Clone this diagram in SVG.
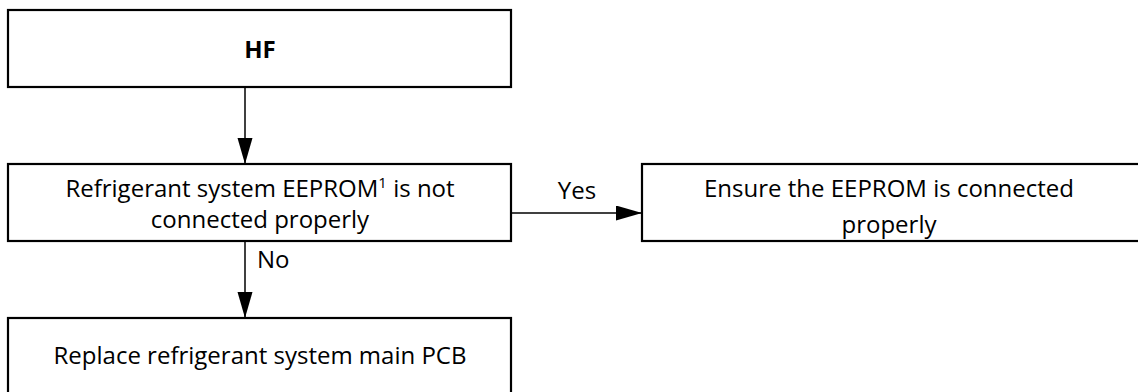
<svg xmlns="http://www.w3.org/2000/svg" width="1138" height="392" viewBox="0 0 1138 392">
<style>
.box{fill:#fff;stroke:#000;stroke-width:2.2}
.t{font-family:"Open Sans","Liberation Sans",sans-serif;font-size:24px;fill:#000;text-anchor:middle}
.b{font-weight:bold}
.c{fill:none;stroke:#000;stroke-width:1.5}
</style>
<defs>
<marker id="ah" markerUnits="userSpaceOnUse" markerWidth="26" markerHeight="16" refX="26" refY="7.5" orient="auto">
<path d="M0,0 L26,7.5 L0,15 Z" fill="#000"/>
</marker>
</defs>
<rect width="1138" height="392" fill="#fff"/>
<g id="connectors">
<line class="c" x1="245" y1="87" x2="245" y2="164" marker-end="url(#ah)"/>
<line class="c" x1="511" y1="213" x2="642" y2="213" marker-end="url(#ah)"/>
<line class="c" x1="245" y1="241" x2="245" y2="318" marker-end="url(#ah)"/>
<text class="t" x="577" y="199">Yes</text>
<text class="t" x="257" y="268" style="text-anchor:start">No</text>
</g>
<g id="hf">
<rect class="box" x="8" y="10" width="503" height="77"/>
<text class="t b" x="260" y="58">HF</text>
</g>
<g id="eeprom-check">
<rect class="box" x="8" y="164" width="503" height="77"/>
<text class="t" x="260" y="197">Refrigerant system EEPROM<tspan font-size="15" dy="-9">1</tspan><tspan dy="9"> is not</tspan></text>
<text class="t" x="260" y="228">connected properly</text>
</g>
<g id="ensure">
<rect class="box" x="642" y="164" width="498" height="77"/>
<text class="t" x="889" y="197">Ensure the EEPROM is connected</text>
<text class="t" x="889" y="233">properly</text>
</g>
<g id="replace">
<rect class="box" x="8" y="318" width="503" height="82"/>
<text class="t" x="260" y="364">Replace refrigerant system main PCB</text>
</g>
</svg>
